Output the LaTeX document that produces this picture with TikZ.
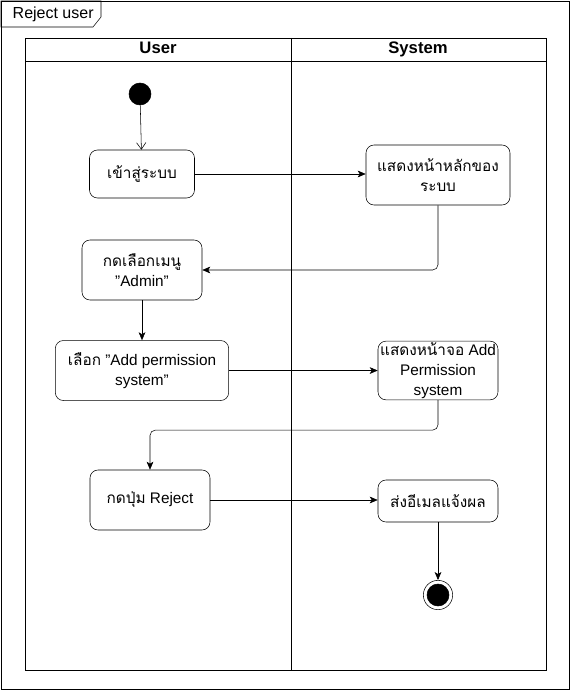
\documentclass[tikz,border=0pt]{standalone}
\usepackage{fontspec}
\setmainfont{Liberation Sans}
\newfontfamily\thaifont[Script=Thai]{Loma}
\newcommand\qt{\symbol{34}}
\usetikzlibrary{arrows.meta, positioning}

\begin{document}
\begin{tikzpicture}[
						x=0.75pt, y=-0.75pt,
						font=\fontsize{11.5}{15}\selectfont,
						box/.style = {draw, rounded corners=6pt, align=center, inner sep=0pt},
						header/.style = {font=\bfseries\fontsize{12.5}{14}\selectfont, anchor=base},
						startround/.style = {draw, fill=black, circle, minimum size=16.5pt, inner sep=0pt},
						endround/.style = {draw, fill=white, circle, minimum size=22pt, inner sep=0pt},
						arr/.style = {-{Stealth[length=6pt,width=5pt,inset=1.5pt]}, rounded corners=4pt},
						openarr/.style = {-{Straight Barb[length=5pt,width=7pt]}},
					]

\useasboundingbox (0,0) rectangle (571,691);

% frame and swimlanes
\draw (1,1) rectangle (569,689);
\draw (1,1) -- (101,1) -- (101,17) -- (93,27) -- (1,27) -- cycle;
\node[anchor=base west, font=\fontsize{12}{14}\selectfont] (title) at (8,19) {Reject user};
\draw (25,38) rectangle (546,670);
\draw (25,61) -- (546,61);
\draw (291,38) -- (291,670);
\node[header] (user) at (158,54) {User};
\node[header] (system) at (418,54) {System};

\node[startround] (start) at (140,94) {};
\node[box, minimum width=78.75pt, minimum height=36pt] (enter) at (142,174) {\thaifont เข้าสู่ระบบ};
\node[box, minimum width=108pt, minimum height=45pt] (home) at (438,175) {\thaifont แสดงหน้าหลักของ\\ \thaifont ระบบ};
\node[box, minimum width=90pt, minimum height=45pt] (admin) at (142,270) {\thaifont กดเลือกเมนู\\ \qt Admin\qt};
\node[box, minimum width=130pt, minimum height=45pt] (choose) [below=30pt of admin] {{\thaifont เลือก} \qt Add permission\\ system\qt};
\node[box, minimum width=90pt, minimum height=44pt] (addperm) at (438,370.5) {{\thaifont แสดงหน้าจอ} Add\\ Permission\\ system};
\node[box, minimum width=90pt, minimum height=45pt] (reject) at (150,500) {{\thaifont กดปุ่ม} Reject};
\node[box, minimum width=90pt, minimum height=31.5pt] (mail) at (438,501) {\thaifont ส่งอีเมลแจ้งผล};
\node[endround] (finish) at (438,595) {};
\node[startround] (finishdot) at (finish) {};

\draw[openarr] (start) -- (enter);
\draw[arr] (enter) -- (enter -| home.west);
\draw[arr] (home.south) |- (admin.east);
\draw[arr] (admin) -- (choose);
\draw[arr] (choose) -- (choose -| addperm.west);
\draw[arr] (addperm.south) -- ++(0,30) -| (reject.north);
\draw[arr] (reject) -- (reject -| mail.west);
\draw[arr] (mail) -- (finish);

\end{tikzpicture}
\end{document}
